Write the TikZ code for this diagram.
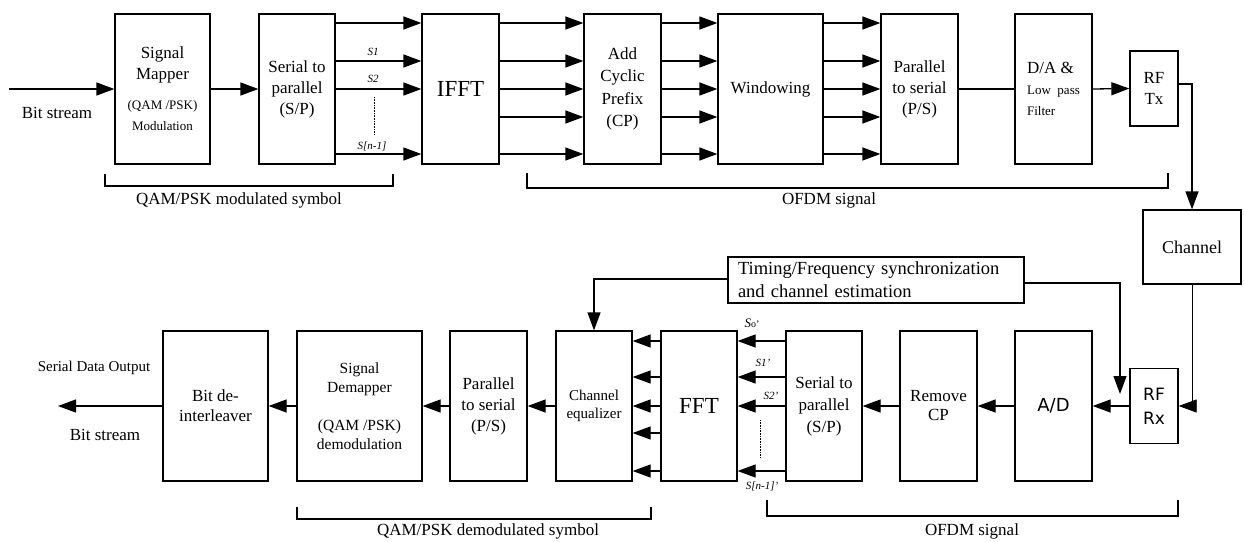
\documentclass[tikz,border=0pt]{standalone}
\usepackage{fontspec}
\setmainfont{Liberation Serif}
\newfontfamily\sansf{DejaVu Sans}
\usetikzlibrary{arrows.meta}
\newcommand\fs[2]{\fontsize{#1}{#2}\selectfont}
\begin{document}
\begin{tikzpicture}[x=1pt,y=-1pt,line width=1.3pt,
  blk/.style={draw,line width=1.3pt,inner sep=0pt,align=center,font=\fs{17}{21}},
  topblk/.style={blk,minimum height=150pt},
  botblk/.style={blk,minimum height=150pt},
  arr/.style={-{Triangle[length=18pt,width=13pt]}},
  lbl/.style={inner sep=0pt,font=\fs{17}{20}},
  slbl/.style={inner sep=0pt,font=\fs{11}{12}\itshape},
  brk/.style={line width=1.3pt},
  dotl/.style={densely dotted,line width=0.6pt}]
\useasboundingbox (0,0) rectangle (1244,541);

% ---------- top row ----------
\node[topblk,minimum width=95pt] (map) at (162.5,89)
  {\fs{17}{20}Signal\\\fs{17}{20}Mapper\\[9pt]\fs{13}{15}(QAM /PSK)\\\fs{13}{15}Modulation};
\node[topblk,minimum width=76pt] (sp) at (297,89) {Serial to\\parallel\\(S/P)};
\node[topblk,minimum width=77pt,font=\fs{23}{26}] (ifft) at (460.5,89) {IFFT};
\node[topblk,minimum width=77pt,font=\fs{17}{22.5}] (cp) at (622.5,89) {Add\\Cyclic\\Prefix\\(CP)};
\node[topblk,minimum width=105pt] (win) at (770.5,89) {Windowing};
\node[topblk,minimum width=77pt] (ps) at (919.5,89) {Parallel\\to serial\\(P/S)};
\node[topblk,minimum width=77pt,align=left] (da) at (1053.5,89)
  {\fs{17}{18}D/A \&\\\fs{13}{16}Low \ pass\\\fs{13}{16}Filter};
\node[blk,minimum width=48pt,minimum height=75pt] (rftx) at (1154,88.5) {RF\\Tx};
\node[blk,minimum width=98pt,minimum height=74pt,font=\fs{18}{21}] (chan) at (1192,247) {Channel};

\node[lbl] (bsin) at (57,113) {Bit stream};
\coordinate (src) at (9,89);
\draw[arr] (src) -- (map.west);
\draw[arr] (map.east) -- (sp.west);

\foreach \yy in {23,61,89,154}
  \draw[arr] (sp.east |- 0,\yy) -- (ifft.west |- 0,\yy);
\foreach \yy in {23,61,89,117,154}{
  \draw[arr] (ifft.east |- 0,\yy) -- (cp.west |- 0,\yy);
  \draw[arr] (cp.east |- 0,\yy) -- (win.west |- 0,\yy);
  \draw[arr] (win.east |- 0,\yy) -- (ps.west |- 0,\yy);
}
\node[slbl] (s1) at (373,52) {S1};
\node[slbl] (s2) at (373,79) {S2};
\node[slbl] (sn) at (372,146) {S[n-1]};
\coordinate (d1) at (374,97);
\coordinate (d2) at (374,135);
\draw[dotl] (d1) -- (d2);

\draw (ps.east) -- (da.west);
\draw[arr] (da.east |- 0,89) -- (rftx.west);
\draw[arr] (rftx.east |- 0,84) -| (chan.north);

% brackets top
\draw[brk] (105,174) -- (105,186) -- (393,186) -- (393,174);
\node[lbl] (qamtxt) at (239,200) {QAM/PSK modulated symbol};
\draw[brk] (527,173) -- (527,188) -- (1168,188) -- (1168,173);
\node[lbl] (ofdm1) at (829,200) {OFDM signal};

% ---------- bottom row ----------
\node[blk,minimum width=48pt,minimum height=75pt,font=\sansf\fs{17}{24}] (rfrx) at (1154,406) {RF\\Rx};
\node[botblk,minimum width=77pt,font=\sansf\fs{18}{21}] (ad) at (1053.5,406) {A/D};
\node[botblk,minimum width=77pt,font=\fs{17}{19}] (rcp) at (938.5,406) {Remove\\CP};
\node[botblk,minimum width=76pt,font=\fs{17}{22}] (sp2) at (824,406) {Serial to\\parallel\\(S/P)};
\node[botblk,minimum width=76pt,font=\fs{23}{26}] (fft) at (699,406) {FFT};
\node[botblk,minimum width=76pt,font=\fs{15}{18}] (eq) at (594,406) {Channel\\equalizer};
\node[botblk,minimum width=77pt,font=\fs{17}{21}] (ps2) at (488.5,406) {Parallel\\to serial\\(P/S)};
\node[botblk,minimum width=125pt,font=\fs{15.5}{19}] (demap) at (359.5,406)
  {Signal\\Demapper\\[19pt](QAM /PSK)\\demodulation};
\node[botblk,minimum width=105pt,font=\fs{17}{20}] (bdi) at (215.5,406) {Bit de-\\interleaver};

\node[blk,minimum width=296pt,minimum height=46pt,align=left,text width=276pt,font=\fs{18.5}{23}] (sync) at (876,280)
  {Timing/Frequency synchronization\\and channel estimation};

\draw[arr,line width=0.8pt] (chan.south) |- (rfrx.east);
\draw[arr] (rfrx.west) -- (ad.east);
\draw[arr] (ad.west) -- (rcp.east);
\draw[arr] (rcp.west) -- (sp2.east);
\foreach \yy in {341,377,406,471}
  \draw[arr] (sp2.west |- 0,\yy) -- (fft.east |- 0,\yy);
\foreach \yy in {341,377,406,433,471}
  \draw[arr] (fft.west |- 0,\yy) -- (eq.east |- 0,\yy);
\draw[arr] (eq.west) -- (ps2.east);
\draw[arr] (ps2.west) -- (demap.east);
\draw[arr] (demap.west) -- (bdi.east);
\coordinate (sink) at (58,406);
\draw[arr] (bdi.west) -- (sink);

\coordinate (rxin) at (1120,394);
\draw[arr] (sync.west |- 0,279) -| (eq.north);
\draw[arr] (sync.east |- 0,283) -| (rxin);

\node[slbl,font=\fs{13}{14}] (s0p) at (752,323) {\textit{S}\fs{10}{12}\upshape o’};
\node[slbl] (s1p) at (763,363) {S1’};
\node[slbl] (s2p) at (771,396) {S2’};
\node[slbl] (snp) at (762,486) {S[n-1]’};
\coordinate (e1) at (760,420);
\coordinate (e2) at (760,458);
\draw[dotl] (e1) -- (e2);

\node[inner sep=0pt,font=\fs{15}{17}] (sdo) at (94,368) {Serial Data Output};
\node[lbl] (bsout) at (105,435) {Bit stream};

% brackets bottom
\draw[brk] (297,507) -- (297,519) -- (651,519) -- (651,507);
\node[lbl] (qamtxt2) at (488,531) {QAM/PSK demodulated symbol};
\draw[brk] (767,500) -- (767,516) -- (1178,516) -- (1178,500);
\node[lbl] (ofdm2) at (972,531) {OFDM signal};
\end{tikzpicture}
\end{document}
